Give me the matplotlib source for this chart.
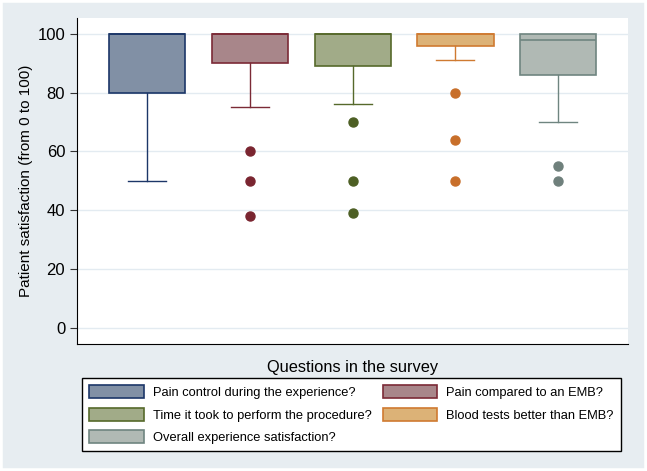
import matplotlib.pyplot as plt
from matplotlib.patches import Rectangle

questions = ["Pain control during the experience?", "Pain compared to an EMB?",
             "Time it took to perform the procedure?", "Blood tests better than EMB?",
             "Overall experience satisfaction?"]
q1 = [80, 90, 89, 96, 86]
med = [100, 100, 100, 100, 98]
q3 = [100, 100, 100, 100, 100]
wlo = [50, 75, 76, 91, 70]
whi = [100, 100, 100, 100, 100]
outliers = [[], [60, 50, 38], [70, 50, 39], [80, 64, 50], [55, 50]]

fills = ["#8190a5", "#a8868a", "#a1ab88", "#dcb277", "#b0b9b4"]
edges = ["#1c3668", "#7b2a36", "#56692b", "#cf7a31", "#6f8580"]
dots = ["#1c3668", "#7a2530", "#4d5f24", "#c86f2a", "#6f807c"]

plt.rcParams['font.family'] = ['Liberation Sans', 'DejaVu Sans']
fig = plt.figure(figsize=(6.47, 4.71), dpi=100, facecolor="#e7edf1")
fig.patches.append(Rectangle((0, 0), 1, 1, transform=fig.transFigure, fill=False,
                             edgecolor="white", linewidth=4, zorder=10))
ax = fig.add_axes([0.119, 0.27, 0.852, 0.692])

handles = []
for i in range(5):
    st = [{"med": med[i], "q1": q1[i], "q3": q3[i], "whislo": wlo[i], "whishi": whi[i],
           "fliers": outliers[i]}]
    b = ax.bxp(st, positions=[i + 1], widths=0.74, patch_artist=True, showcaps=True,
               boxprops=dict(facecolor=fills[i], edgecolor=edges[i], linewidth=1.2),
               medianprops=dict(color=edges[i], linewidth=1.2),
               whiskerprops=dict(color=edges[i], linewidth=1.0),
               capprops=dict(color=edges[i], linewidth=1.0),
               flierprops=dict(marker="o", markerfacecolor=dots[i], markeredgecolor=dots[i],
                               markersize=6.5))
    b["caps"][1].set_visible(False)
    handles.append(b["boxes"][0])

ax.set_xlim(0.32, 5.68)
ax.set_ylim(-5.4, 105.4)
ax.set_yticks([0, 20, 40, 60, 80, 100])
ax.set_xticks([])
ax.tick_params(axis="y", labelsize=12, length=5, color="#333333")
ax.grid(axis="y", color="#e3ebf1", linewidth=1)
ax.set_axisbelow(True)
for s in ["top", "right"]:
    ax.spines[s].set_visible(False)
ax.set_ylabel("Patient satisfaction (from 0 to 100)", fontsize=11, labelpad=3)
ax.set_xlabel("Questions in the survey", fontsize=11.8, labelpad=12)

order = [0, 2, 4, 1, 3]
fig.legend([handles[k] for k in order], [questions[k] for k in order], ncol=2,
           loc="upper left", bbox_to_anchor=(0.127, 0.197), borderaxespad=0,
           fontsize=9.3, fancybox=False, edgecolor="black", framealpha=1,
           handlelength=4.2, handleheight=1.15, labelspacing=0.68, columnspacing=0.9,
           borderpad=0.55, handletextpad=0.7)

fig.savefig("out.png", dpi=100, facecolor=fig.get_facecolor())
